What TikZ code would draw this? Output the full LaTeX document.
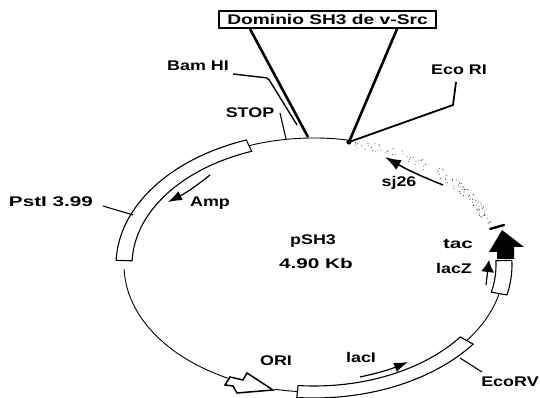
\documentclass[tikz,border=0pt]{standalone}
\usepackage{fontspec}
\setmainfont{Liberation Sans}
\newfontfamily\labfont[FakeStretch=1.28]{Liberation Sans}
\newfontfamily\widefont[FakeStretch=1.48]{Liberation Sans}
\newfontfamily\domfont[FakeStretch=1.37]{Liberation Sans}
\usetikzlibrary{calc,arrows.meta}
\newcommand{\ringarc}[2]{($(c)+(#1:190 and 127)$) arc[start angle=#1,end angle=#2,x radius=190,y radius=127]}
\newcommand{\bandseg}[2]{($(c)+(#1:198 and 133)$) arc[start angle=#1,end angle=#2,x radius=198,y radius=133] -- ($(c)+(#2:182 and 121)$) arc[start angle=#2,end angle=#1,x radius=182,y radius=121] -- cycle}
\tikzset{
  lab/.style={font=\labfont\bfseries\fontsize{14}{16}\selectfont,inner sep=0pt},
  widelab/.style={font=\widefont\bfseries\fontsize{14}{16}\selectfont,inner sep=0pt},
  ring/.style={line width=0.9pt},
  bandbox/.style={draw,fill=white,line width=1.1pt},
  leader/.style={line width=1.1pt},
  insert/.style={line width=2.6pt},
  gene/.style={-{Latex[length=14pt,width=10pt]},line width=1.2pt},
}
\begin{document}
\begin{tikzpicture}[x=1pt,y=1pt]
\useasboundingbox (0,0) rectangle (540,398);
\coordinate (c) at (314,133);
% backbone
\draw[ring] \ringarc{110}{80};
\draw[ring] \ringarc{-13}{-36.5};
\draw[ring] \ringarc{-95}{-102};
\draw[ring] \ringarc{-117}{-178};
% genes
\draw[bandbox] \bandseg{110}{178};
\draw[bandbox] \bandseg{-36.5}{-95};
\draw[bandbox] \bandseg{-13}{2};
% ori
\node[lab] (ori) at (276,37) {ORI};
\draw[bandbox,line width=1.5pt] (273,8) -- (247,25) -- (243,18) -- (230,21) -- (225,13) -- (233,12) -- (237,5) -- cycle;
% tac promoter
\fill (502,168) -- (524,151) -- (514,151) -- (514,139) -- (497,139) -- (497,146) -- (489,146) -- cycle;
\coordinate (hatl) at (490,169);
\coordinate (hatr) at (504,173);
\draw[line width=2.4pt,line cap=round] (hatl) -- (hatr);
% sj26 stipple
\pgfmathsetseed{26}
\foreach \i in {1,...,110}{
  \pgfmathsetmacro\ang{20+58*rnd^1.2}
  \pgfmathsetmacro\off{-8+10*rnd}
  \pgfmathsetmacro\rxx{190+\off}
  \pgfmathsetmacro\ryy{127+\off}
  \fill ($(c)+(\ang:\rxx pt and \ryy pt)$) circle (0.45);
}
% insert
\node[draw,line width=2pt,minimum width=217pt,minimum height=17pt,inner sep=0pt,font=\domfont\bfseries\fontsize{14}{16}\selectfont] (dom) at (327.5,378.5) {Dominio SH3 de v-Src};
\coordinate (sitel) at (308,261);
\coordinate (siter) at (349,256);
\coordinate (ecoknee) at (453,293);
\fill (siter) circle (2.6);
\draw[insert] (dom.south -| 250,0) -- (sitel);
\draw[insert] (dom.south -| 397,0) -- (siter);
% sites
\node[lab] (bam) at (198,332) {Bam HI};
\node[lab] (stop) at (250,285) {STOP};
\node[lab] (ecori) at (459,328) {Eco RI};
\node[widelab] (pst) at (51,196) {PstI 3.99};
\node[lab] (ecorv) at (510,16) {EcoRV};
\coordinate (bamknee) at (268,320);
\coordinate (bamend) at (297,273);
\coordinate (stopend) at (286,259);
\coordinate (pstend) at (133,183);
\coordinate (ecorvend) at (460,40);
\draw[leader,line width=1.4pt,rounded corners=2pt] (233,324) -- (bamknee) -- (bamend);
\draw[leader] (280,285) -- (stopend);
\draw[leader,line width=1.8pt] (456,316) -- (ecoknee) -- (siter);
\draw[leader] (103,192) -- (pstend);
\draw[leader] (482,26) -- (ecorvend);
% labels inside
\node[lab] (psh) at (313,157) {pSH3};
\node[widelab] (size) at (316,135) {4.90 Kb};
\node[lab] (amp) at (210,195) {Amp};
\node[lab] (sj) at (399,215) {sj26};
\node[widelab] (tac) at (458,154) {tac};
\node[lab] (lacz) at (454,130) {lacZ};
\node[lab] (laci) at (361,41) {lacI};
% gene arrows
\coordinate (amps) at (210,223);
\coordinate (ampe) at (168,196);
\coordinate (sjs) at (443,213);
\coordinate (sje) at (385,241);
\coordinate (lzs) at (486,113);
\coordinate (lze) at (489,138);
\coordinate (lis) at (360,21);
\coordinate (lie) at (408,36);
\draw[gene] (amps) to[bend left=6] (ampe);
\draw[gene,-{Latex[length=16pt,width=11pt]},line width=1.5pt] (sjs) to[bend left=4] (sje);
\draw[gene,-{Latex[length=12pt,width=13pt]}] (lzs) -- (lze);
\draw[gene] (lis) to[bend right=5] (lie);
\end{tikzpicture}
\end{document}
